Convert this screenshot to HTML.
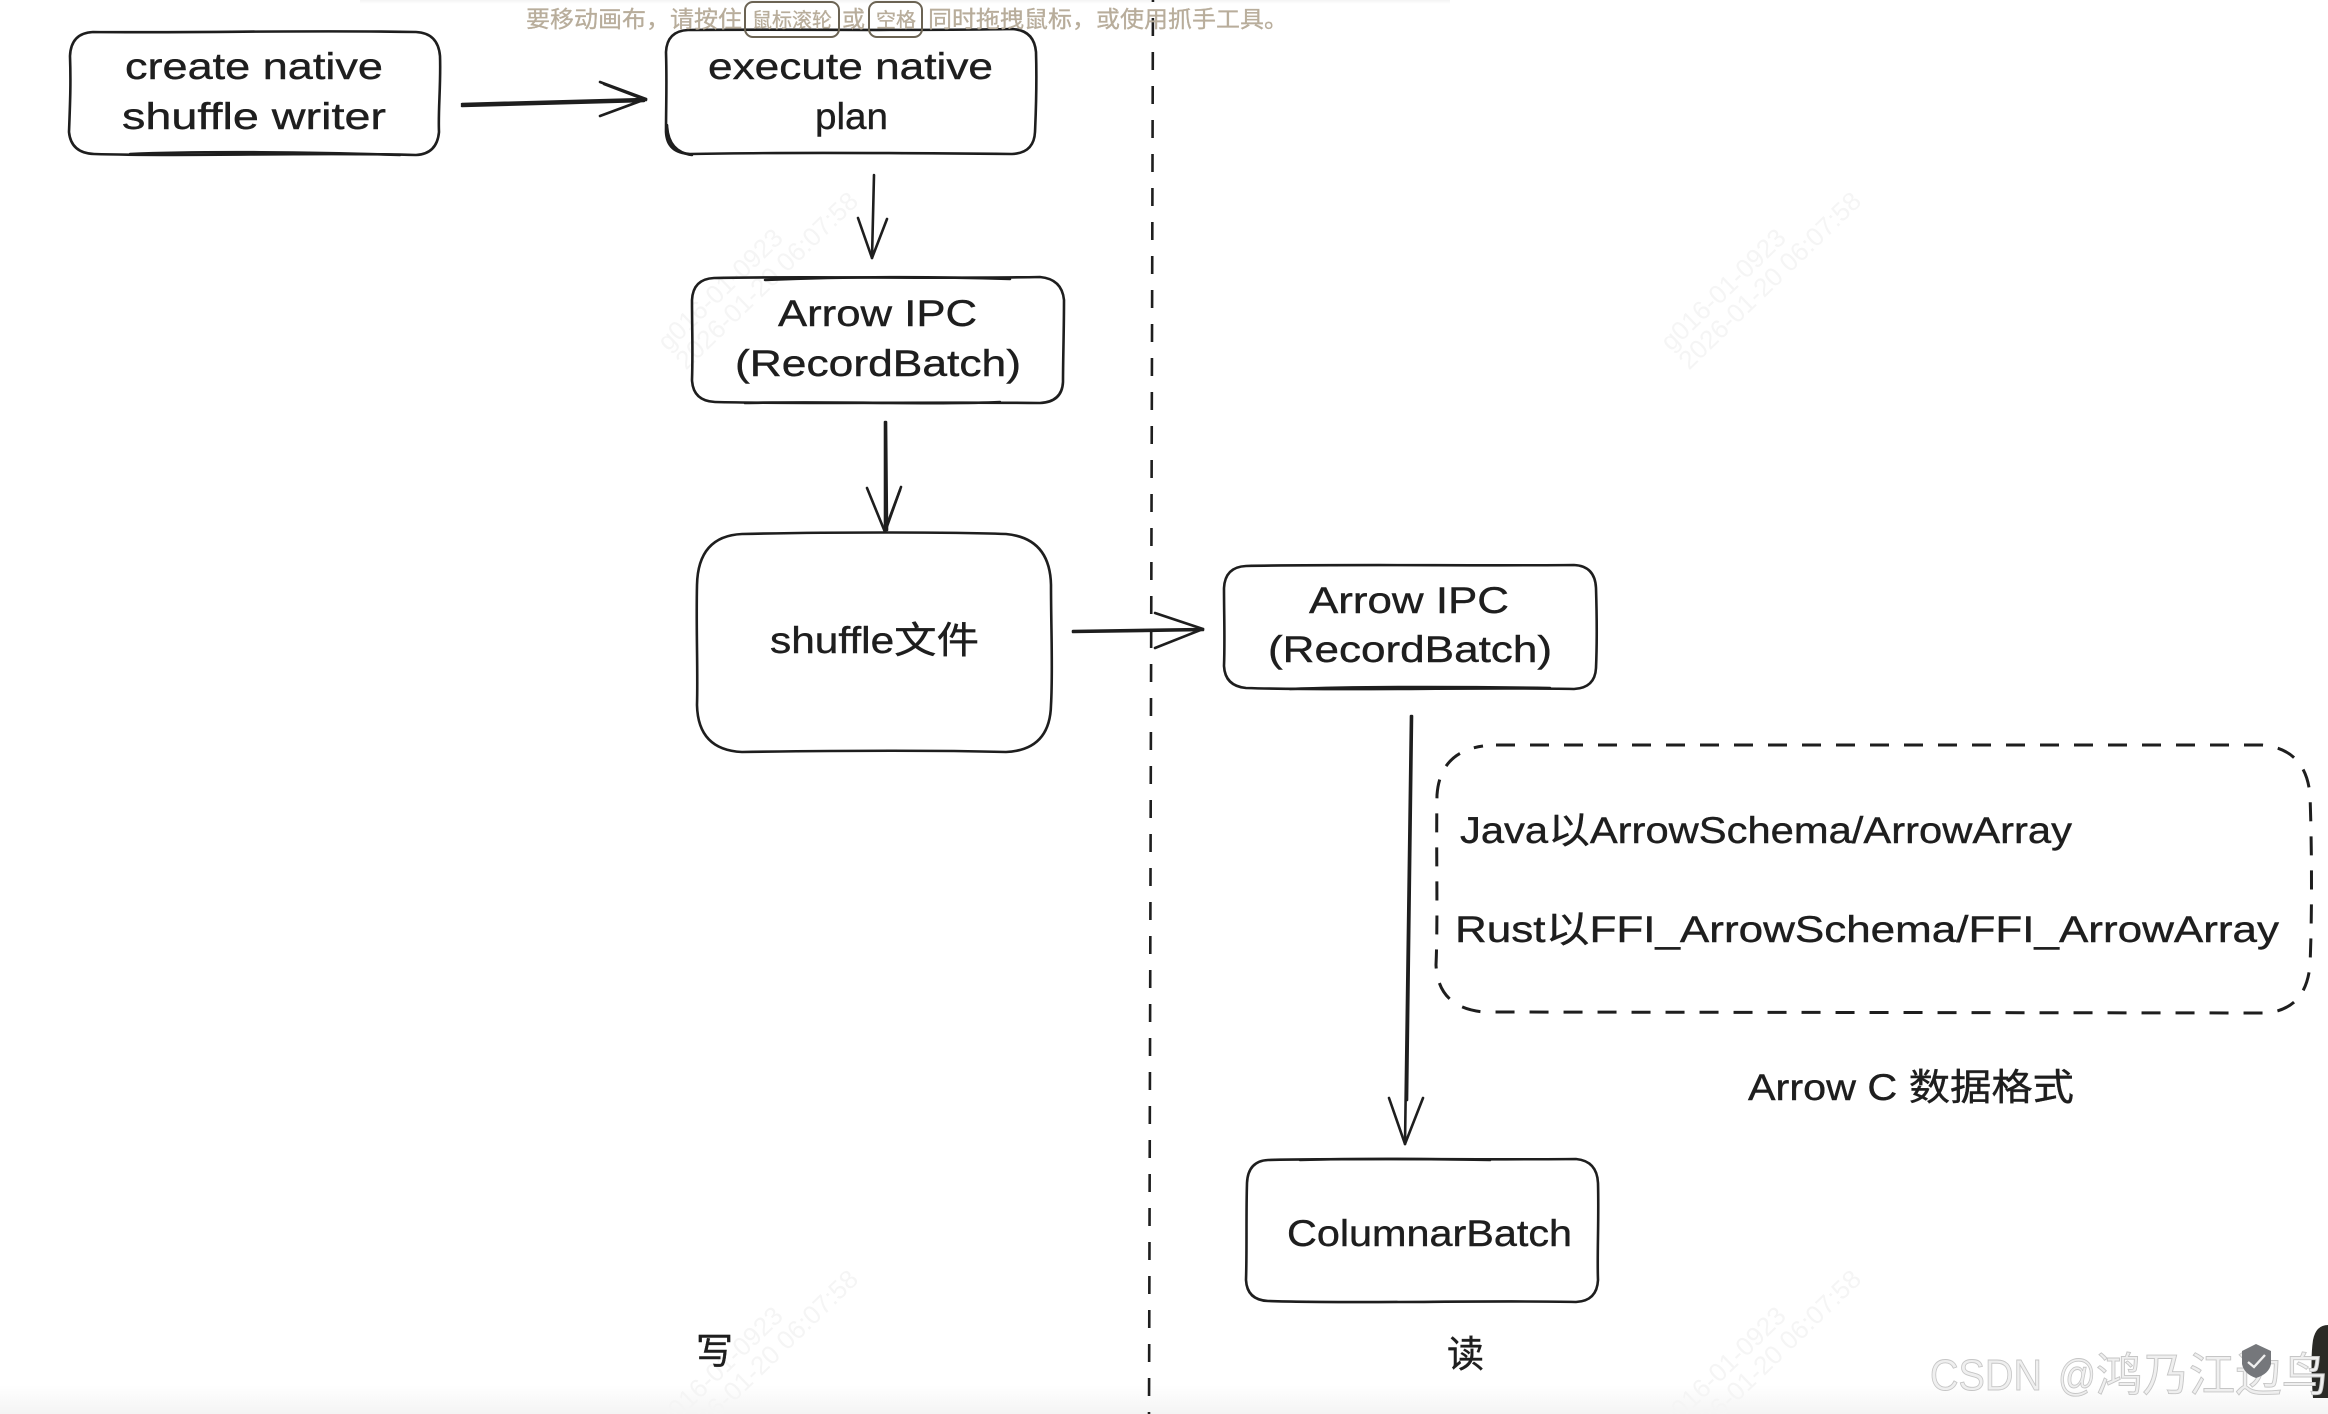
<!DOCTYPE html>
<html><head><meta charset="utf-8"><style>
html,body{margin:0;padding:0;background:#fff}
svg{display:block}
.t{font-family:"Liberation Sans","WenQuanYi Zen Hei","Noto Sans CJK SC",sans-serif;font-size:37px;fill:#1e1e1e;stroke:#1e1e1e;stroke-width:.4}
.s{fill:none;stroke:#1e1e1e;stroke-width:2.6;stroke-linecap:round;stroke-linejoin:round}
.w{font-family:"Liberation Sans",sans-serif;font-size:26px;fill:#f5f5f5}
.k{font-family:"Liberation Sans","Noto Sans CJK SC",sans-serif;font-size:23px;fill:#b8ad9b;stroke:#b8ad9b;stroke-width:.3}
</style></head><body>
<svg width="2328" height="1414" viewBox="0 0 2328 1414" xmlns="http://www.w3.org/2000/svg">
<defs>
<linearGradient id="g" x1="0" y1="0" x2="0" y2="1"><stop offset="0" stop-color="#fff"/><stop offset="1" stop-color="#f4f4f4"/></linearGradient>
<linearGradient id="tg" x1="0" y1="0" x2="0" y2="1"><stop offset="0" stop-color="#f4f4f4"/><stop offset="1" stop-color="#fff"/></linearGradient>
</defs>
<rect width="2328" height="1414" fill="#fff"/>
<rect x="360" y="0" width="1090" height="4" fill="url(#tg)"/>
<rect x="0" y="1385" width="2328" height="29" fill="url(#g)"/>

<!-- watermarks -->
<g class="w">
<g transform="translate(668,352) rotate(-44)"><text>g016-01-0923</text><text x="0" y="26">2026-01-20 06:07:58</text></g>
<g transform="translate(1671,352) rotate(-44)"><text>g016-01-0923</text><text x="0" y="26">2026-01-20 06:07:58</text></g>
<g transform="translate(668,1430) rotate(-44)"><text>g016-01-0923</text><text x="0" y="26">2026-01-20 06:07:58</text></g>
<g transform="translate(1671,1430) rotate(-44)"><text>g016-01-0923</text><text x="0" y="26">2026-01-20 06:07:58</text></g>
</g>

<!-- divider -->
<path d="M1153 -16L1149 1414" fill="none" stroke="#1e1e1e" stroke-width="2.6" stroke-dasharray="18 16"/>

<!-- boxes -->
<g class="s">
<path d="M93 32C190 33 310 30 416 32Q438 33 440 56C441 85 438 110 439 132Q437 154 416 155C310 152 190 157 94 154Q71 153 69 132C70 105 71 85 70 56Q71 33 93 32Z"/>
<path d="M130 154C200 151 320 152 400 155"/>
<path d="M688 30C790 29 910 31 1012 29Q1034 30 1036 52C1037 85 1036 110 1035 132Q1034 153 1012 154C910 153 790 152 690 154Q667 153 666 132C666 105 667 85 666 52Q667 31 688 30Z"/>
<path d="M667 125Q668 152 692 155"/>
<path d="M714 278C800 276 940 279 1040 277Q1062 279 1064 300C1064 330 1063 360 1063 382Q1062 402 1040 403C940 402 800 404 715 402Q693 401 692 380C693 350 692 330 692 300Q693 279 714 278Z"/>
<path d="M765 280C860 276 950 277 1010 279"/>
<path d="M745 403C830 401 940 405 1000 402"/>
<path d="M742 534C830 532 950 532 1006 534Q1050 538 1051 585C1051 630 1053 670 1051 705Q1050 750 1006 752C930 750 810 751 742 752Q698 750 697 705C698 670 696 630 697 585Q698 536 742 534Z"/>
<path d="M1246 566C1340 564 1480 566 1574 565Q1595 566 1596 588C1597 620 1597 645 1596 668Q1595 688 1574 689C1480 687 1340 691 1246 688Q1225 686 1224 666C1225 640 1224 615 1224 588Q1225 567 1246 566Z"/>
<path d="M1290 689C1370 686 1490 687 1550 688"/>
<path d="M1268 1160C1350 1158 1490 1160 1576 1159Q1597 1161 1598 1183C1599 1220 1597 1255 1598 1280Q1597 1301 1576 1302C1490 1300 1350 1304 1268 1301Q1247 1300 1246 1280C1247 1250 1246 1215 1247 1183Q1248 1161 1268 1160Z"/>
<path d="M1300 1160C1370 1158 1440 1159 1490 1160"/>
<path d="M1496 745L2262 745Q2306 749 2310 795C2312 850 2312 920 2310 965Q2306 1010 2265 1013L1484 1012Q1438 1008 1436 965C1438 920 1436 850 1437 795Q1440 752 1483 746" stroke-width="3" stroke-linecap="butt" stroke-dasharray="19 15"/>

<!-- arrows -->
<path d="M462 104L646 99"/><path d="M462 106L644 101"/>
<path d="M600 82L646 99L600 116"/><path d="M604 84L646 100"/>
<path d="M874 175L872 258"/><path d="M858 218L872 258L887 219"/>
<path d="M885 422L885 532"/><path d="M886 422L887 530"/>
<path d="M867 488L885 532L901 487"/><path d="M885 530L900 490"/>
<path d="M1073 631L1203 629"/><path d="M1073 632L1203 630"/>
<path d="M1155 613L1203 629L1155 648"/>
<path d="M1411 716L1405 1144"/><path d="M1412 716L1407 1100"/>
<path d="M1389 1098L1405 1144L1423 1098"/>
</g>

<!-- labels -->
<g class="t">
<text x="125" y="79" textLength="258" lengthAdjust="spacingAndGlyphs">create native</text>
<text x="122" y="129" textLength="264" lengthAdjust="spacingAndGlyphs">shuffle writer</text>
<text x="708" y="79" textLength="285" lengthAdjust="spacingAndGlyphs">execute native</text>
<text x="815" y="129" textLength="73" lengthAdjust="spacingAndGlyphs">plan</text>
<text x="778" y="326" textLength="199" lengthAdjust="spacingAndGlyphs">Arrow IPC</text>
<text x="735" y="376" textLength="286" lengthAdjust="spacingAndGlyphs">(RecordBatch)</text>
<text x="770" y="653" textLength="209" lengthAdjust="spacingAndGlyphs">shuffle文件</text>
<text x="1309" y="613" textLength="200" lengthAdjust="spacingAndGlyphs">Arrow IPC</text>
<text x="1268" y="662" textLength="284" lengthAdjust="spacingAndGlyphs">(RecordBatch)</text>
<text x="1460" y="843" textLength="612" lengthAdjust="spacingAndGlyphs">Java以ArrowSchema/ArrowArray</text>
<text x="1455" y="942" textLength="824" lengthAdjust="spacingAndGlyphs">Rust以FFI_ArrowSchema/FFI_ArrowArray</text>
<text x="1748" y="1100" textLength="326" lengthAdjust="spacingAndGlyphs">Arrow C 数据格式</text>
<text x="1287" y="1246" textLength="285" lengthAdjust="spacingAndGlyphs">ColumnarBatch</text>
<text x="696" y="1364">写</text>
<text x="1447" y="1367">读</text>
</g>

<!-- toast hint -->
<g class="k">
<text x="526" y="27" textLength="216" lengthAdjust="spacingAndGlyphs">要移动画布，请按住</text>
<rect x="745" y="2" width="94" height="35" rx="8" fill="none" stroke="#6b6353" stroke-width="2"/>
<text x="752" y="27" font-size="20" textLength="80" lengthAdjust="spacingAndGlyphs">鼠标滚轮</text>
<text x="842" y="27" textLength="23" lengthAdjust="spacingAndGlyphs">或</text>
<rect x="869" y="2" width="53" height="35" rx="8" fill="none" stroke="#6b6353" stroke-width="2"/>
<text x="876" y="27" font-size="20" textLength="40" lengthAdjust="spacingAndGlyphs">空格</text>
<text x="928" y="27" textLength="360" lengthAdjust="spacingAndGlyphs">同时拖拽鼠标，或使用抓手工具。</text>
</g>

<!-- CSDN watermark -->
<path d="M2313 1398Q2310 1360 2313 1340Q2316 1325 2328 1325L2328 1398Z" fill="#2a2a26"/>
<g font-family="'Liberation Sans','Noto Sans CJK SC',sans-serif" fill="#efefef" stroke="#c6c6c6" stroke-width=".9">
<text x="1930" y="1390" font-size="44" textLength="112" lengthAdjust="spacingAndGlyphs">CSDN</text>
<text x="2058" y="1390" font-size="44" textLength="38" lengthAdjust="spacingAndGlyphs">@</text>
<text x="2096" y="1391" font-size="46" textLength="232" lengthAdjust="spacingAndGlyphs">鸿乃江边鸟</text>
</g>
<path d="M2256 1344L2271 1351L2271 1364Q2269 1374 2256 1378Q2244 1374 2242 1364L2242 1351Z" fill="#75777b"/>
<path d="M2248 1362L2254 1367L2265 1355" fill="none" stroke="#efefef" stroke-width="2.4"/>
</svg>
</body></html>
